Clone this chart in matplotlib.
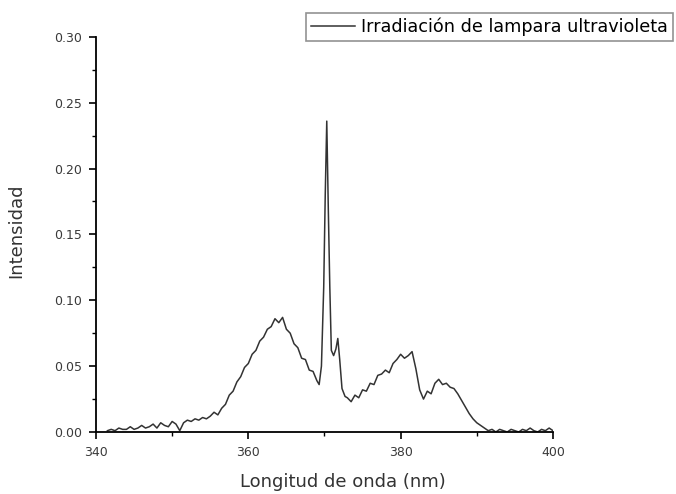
import matplotlib.pyplot as plt
from matplotlib.ticker import MultipleLocator

plt.rcParams['font.family'] = ['DejaVu Sans']

# longitud de onda (nm)
wl = [341.5, 342.0, 342.5, 343.0, 343.5, 344.0, 344.5, 345.0, 345.5, 346.0,
      346.5, 347.0, 347.5, 348.0, 348.5, 349.0, 349.5, 350.0, 350.5, 351.0,
      351.5, 352.0, 352.5, 353.0, 353.5, 354.0, 354.5, 355.0, 355.5, 356.0,
      356.5, 357.0, 357.5, 358.0, 358.5, 359.0, 359.5, 360.0, 360.5, 361.0,
      361.5, 362.0, 362.5, 363.0, 363.5, 364.0, 364.5, 365.0, 365.5, 366.0,
      366.5, 367.0, 367.5, 368.0, 368.5, 369.0, 369.3, 369.6, 369.9, 370.1,
      370.3, 370.5, 370.7, 370.9, 371.2, 371.5, 371.75, 372.0, 372.3, 372.7,
      373.0, 373.5, 374.0, 374.5, 375.0, 375.5, 376.0, 376.5, 377.0, 377.5,
      378.0, 378.5, 379.0, 379.5, 380.0, 380.5, 381.0, 381.5, 382.0, 382.5,
      383.0, 383.5, 384.0, 384.5, 385.0, 385.5, 386.0, 386.5, 387.0, 387.5,
      388.0, 388.5, 389.0, 389.5, 390.0, 390.5, 391.0, 391.5, 392.0, 392.5,
      393.0, 393.5, 394.0, 394.5, 395.0, 395.5, 396.0, 396.5, 397.0, 397.5,
      398.0, 398.5, 399.0, 399.5, 400.0]

# intensidad
inten = [0.001, 0.002, 0.001, 0.003, 0.002, 0.002, 0.004, 0.002, 0.003, 0.005,
         0.003, 0.004, 0.006, 0.003, 0.007, 0.005, 0.004, 0.008, 0.006, 0.001,
         0.007, 0.009, 0.008, 0.010, 0.009, 0.011, 0.010, 0.012, 0.015, 0.013,
         0.018, 0.021, 0.028, 0.031, 0.038, 0.042, 0.049, 0.052, 0.059, 0.062,
         0.069, 0.072, 0.078, 0.080, 0.086, 0.083, 0.087, 0.078, 0.075, 0.067,
         0.064, 0.056, 0.055, 0.047, 0.046, 0.039, 0.036, 0.050, 0.110, 0.180,
         0.236, 0.170, 0.110, 0.062, 0.058, 0.063, 0.071, 0.055, 0.033, 0.027,
         0.026, 0.023, 0.028, 0.026, 0.032, 0.031, 0.037, 0.036, 0.043, 0.044,
         0.047, 0.045, 0.052, 0.055, 0.059, 0.056, 0.058, 0.061, 0.048, 0.032,
         0.025, 0.031, 0.029, 0.037, 0.040, 0.036, 0.037, 0.034, 0.033, 0.029,
         0.024, 0.019, 0.014, 0.010, 0.007, 0.005, 0.003, 0.001, 0.002, 0.000,
         0.002, 0.001, 0.000, 0.002, 0.001, 0.000, 0.002, 0.001, 0.003, 0.001,
         0.000, 0.002, 0.001, 0.003, 0.001]

fig = plt.figure(figsize=(6.76, 4.94), dpi=100)
ax = fig.add_axes([0.142, 0.1255, 0.676, 0.8])

ax.plot(wl, inten, color='#333333', lw=1.1, label='Irradiación de lampara ultravioleta')

ax.set_xlim(340, 400)
ax.set_ylim(0, 0.30)
ax.xaxis.set_major_locator(MultipleLocator(20))
ax.xaxis.set_minor_locator(MultipleLocator(10))
ax.yaxis.set_major_locator(MultipleLocator(0.05))
ax.yaxis.set_minor_locator(MultipleLocator(0.025))
ax.yaxis.set_major_formatter(plt.FormatStrFormatter('%.2f'))

ax.spines['top'].set_visible(False)
ax.spines['right'].set_visible(False)
ax.spines['left'].set_linewidth(1.3)
ax.spines['bottom'].set_linewidth(1.3)
ax.tick_params(which='major', direction='out', length=5, width=1.2, pad=5,
               labelsize=9, labelcolor='#3a3a3a')
ax.tick_params(which='minor', direction='out', length=3, width=1.0)

ax.set_xlabel('Longitud de onda (nm)', fontsize=13, color='#333333')
ax.set_ylabel('Intensidad', fontsize=13, color='#333333')
ax.xaxis.set_label_coords(0.54, -0.103)
ax.yaxis.set_label_coords(-0.155, 0.51)

leg = ax.legend(loc='upper right', bbox_to_anchor=(673 / 676, 1 - 13 / 494),
                bbox_transform=fig.transFigure, fontsize=12.7, frameon=True,
                fancybox=False, handlelength=2.5, borderpad=0.28,
                handletextpad=0.35, borderaxespad=0)
leg.get_frame().set_edgecolor('#777777')
leg.get_frame().set_linewidth(1.2)

fig.savefig('out.png', dpi=100)
